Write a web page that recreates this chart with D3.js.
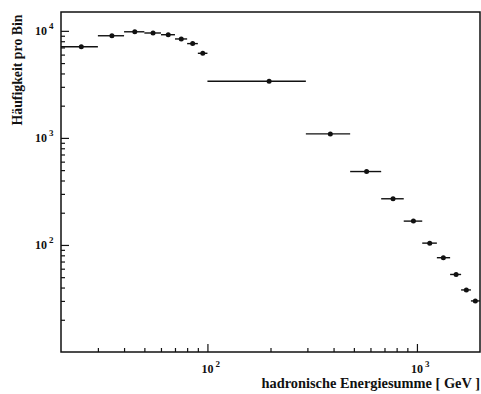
<!DOCTYPE html>
<html>
<head>
<meta charset="utf-8">
<script src="https://cdn.jsdelivr.net/npm/d3@7/dist/d3.min.js"></script>
<style>
  body { margin: 0; background: #fff; }
  text { font-family: "Liberation Serif", "DejaVu Serif", serif; font-weight: bold; fill: #111; }
</style>
</head>
<body>
<svg id="chart" width="481" height="394"></svg>
<script>
// Histogram bins of the hadronic energy sum (GeV) and entries per bin
const binLow    = [20, 30, 40, 50, 60, 70, 80, 90, 100, 295, 480, 675, 865, 1060, 1245, 1440, 1625, 1810];
const binHigh   = [30, 40, 50, 60, 70, 80, 90, 100, 295, 480, 675, 865, 1060, 1245, 1440, 1625, 1810, 2000];
const binCenter = [25, 35, 45, 55, 65, 75, 85, 95, 197, 386, 575, 769, 962, 1151, 1337, 1538, 1721, 1900];
const counts    = [7100, 9000, 9800, 9550, 9200, 8400, 7600, 6170, 3380, 1090, 485, 270, 167, 104, 76, 53, 38, 30];

// Axis ticks
const xMajorTicks = [100, 1000];
const xMajorLabels = [["10", "2"], ["10", "3"]];
const xMinorTicks = [30, 40, 50, 60, 70, 80, 90, 200, 300, 400, 500, 600, 700, 800, 900];
const yMajorTicks = [100, 1000, 10000];
const yMajorLabels = [["10", "2"], ["10", "3"], ["10", "4"]];
const yMinorTicks = [20, 30, 40, 50, 60, 70, 80, 90, 200, 300, 400, 500, 600, 700, 800, 900,
                     2000, 3000, 4000, 5000, 6000, 7000, 8000, 9000];

const xTitle = "hadronische Energiesumme [ GeV ]";
const yTitle = "Häufigkeit pro Bin";

const svg = d3.select("#chart");
const plotLeft = 61, plotRight = 480, plotTop = 12, plotBottom = 352;

const x = d3.scaleLog().domain([20, 2000]).range([plotLeft, plotRight]);
const y = d3.scaleLog().domain([10, 15000]).range([plotBottom, plotTop]);

const ink = "#111";

// ticks pointing into the plot area
function styleAxis(g) {
  g.select(".domain").remove();
  g.selectAll(".tick line").attr("stroke", ink).attr("stroke-width", 1.2);
  g.selectAll(".tick text").remove();
}

svg.append("g").attr("transform", `translate(0,${plotBottom})`)
  .call(d3.axisBottom(x).tickValues(xMinorTicks).tickSize(-4).tickSizeOuter(0))
  .call(styleAxis);
svg.append("g").attr("transform", `translate(0,${plotBottom})`)
  .call(d3.axisBottom(x).tickValues(xMajorTicks).tickSize(-8).tickSizeOuter(0))
  .call(styleAxis);
svg.append("g").attr("transform", `translate(${plotLeft},0)`)
  .call(d3.axisLeft(y).tickValues(yMinorTicks).tickSize(-4).tickSizeOuter(0))
  .call(styleAxis);
svg.append("g").attr("transform", `translate(${plotLeft},0)`)
  .call(d3.axisLeft(y).tickValues(yMajorTicks).tickSize(-8).tickSizeOuter(0))
  .call(styleAxis);

// frame
svg.append("rect")
  .attr("x", plotLeft).attr("y", plotTop)
  .attr("width", plotRight - plotLeft).attr("height", plotBottom - plotTop)
  .attr("fill", "none").attr("stroke", ink).attr("stroke-width", 1.5);

// tick labels: base "10" with raised exponent
xMajorTicks.forEach((v, i) => {
  const g = svg.append("g").attr("transform", `translate(${x(v)},373)`);
  g.append("text").attr("text-anchor", "middle").attr("font-size", 12).text(xMajorLabels[i][0]);
  g.append("text").attr("x", 8).attr("y", -6).attr("font-size", 9).text(xMajorLabels[i][1]);
});
yMajorTicks.forEach((v, i) => {
  const g = svg.append("g").attr("transform", `translate(47,${y(v) + 4})`);
  g.append("text").attr("text-anchor", "end").attr("font-size", 12).text(yMajorLabels[i][0]);
  g.append("text").attr("x", 2).attr("y", -6).attr("font-size", 9).text(yMajorLabels[i][1]);
});

// axis titles
svg.append("text")
  .attr("x", 480).attr("y", 388)
  .attr("text-anchor", "end").attr("font-size", 14.4)
  .text(xTitle);
svg.append("text")
  .attr("transform", "translate(21.5,70) rotate(-90)")
  .attr("text-anchor", "middle").attr("font-size", 13.8)
  .text(yTitle);

// data: horizontal bin-width bars with a point at the bin centre
const data = counts.map((c, i) => ({ lo: binLow[i], hi: binHigh[i], xc: binCenter[i], n: c }));

svg.append("g").selectAll("line")
  .data(data).join("line")
  .attr("x1", d => x(d.lo)).attr("x2", d => x(d.hi))
  .attr("y1", d => y(d.n)).attr("y2", d => y(d.n))
  .attr("stroke", ink).attr("stroke-width", 1.4);

svg.append("g").selectAll("circle")
  .data(data).join("circle")
  .attr("cx", d => x(d.xc)).attr("cy", d => y(d.n))
  .attr("r", 2.5).attr("fill", ink);
</script>
</body>
</html>
